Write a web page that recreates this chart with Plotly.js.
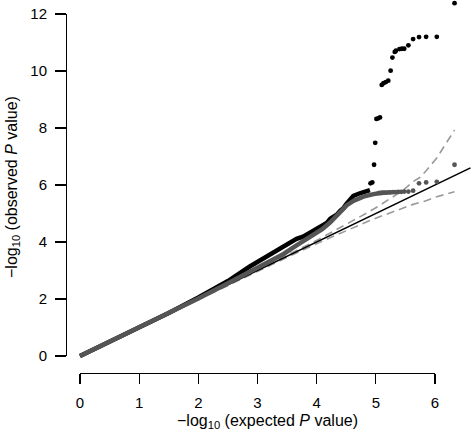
<!DOCTYPE html>
<html>
<head>
<meta charset="utf-8">
<script src="https://cdn.plot.ly/plotly-3.0.1.min.js"></script>
<style>html,body{margin:0;padding:0;background:#fff}#chart{width:471px;height:441px}</style>
</head>
<body>
<div id="chart"></div>
<script>
// Dense part of observed series 1 (black)
var blackCurveX = [0, 0.5, 1, 1.5, 2, 2.5, 2.87, 3.21, 3.44, 3.66, 3.77, 3.89, 4.0, 4.1, 4.17, 4.23, 4.34, 4.40, 4.45, 4.50, 4.56, 4.62, 4.73, 4.82, 4.90];
var blackCurveY = [0, 0.5, 1, 1.51, 2.05, 2.63, 3.14, 3.57, 3.87, 4.11, 4.19, 4.34, 4.46, 4.57, 4.67, 4.82, 4.96, 5.10, 5.18, 5.33, 5.48, 5.62, 5.71, 5.77, 5.82];
// Sparse top points of series 1
var blackPtsX = [4.91, 4.94, 4.97, 4.99, 5.01, 5.04, 5.07, 5.10, 5.13, 5.17, 5.21, 5.25, 5.28, 5.32, 5.34, 5.40, 5.44, 5.48, 5.55, 5.63, 5.73, 5.85, 6.03, 6.33];
var blackPtsY = [6.06, 6.09, 6.71, 7.48, 8.32, 8.34, 8.37, 9.51, 9.57, 9.61, 9.66, 10.01, 10.47, 10.67, 10.71, 10.77, 10.78, 10.78, 10.90, 11.12, 11.19, 11.20, 11.20, 12.38];
// Dense part of observed series 2 (dark gray)
var grayCurveX = [0, 0.5, 1, 1.5, 2, 2.5, 2.87, 3.2, 3.44, 3.66, 3.94, 4.1, 4.23, 4.39, 4.42, 4.45, 4.51, 4.62, 4.79, 4.96, 5.03];
var grayCurveY = [0, 0.5, 1, 1.5, 2.02, 2.55, 2.95, 3.32, 3.58, 3.88, 4.24, 4.46, 4.69, 5.04, 5.12, 5.21, 5.29, 5.44, 5.59, 5.68, 5.70];
// Sparse top points of series 2
var grayPtsX = [5.05, 5.07, 5.10, 5.12, 5.15, 5.18, 5.22, 5.25, 5.29, 5.33, 5.38, 5.43, 5.48, 5.55, 5.63, 5.73, 5.85, 6.03, 6.33];
var grayPtsY = [5.71, 5.72, 5.72, 5.73, 5.73, 5.73, 5.74, 5.74, 5.75, 5.75, 5.76, 5.76, 5.77, 5.77, 5.80, 6.06, 6.09, 6.11, 6.71];
// Confidence band (dashed)
var bandX = [0, 1, 2, 3, 3.33, 3.63, 4.03, 4.33, 4.63, 4.85, 5.03, 5.33, 5.45, 5.63, 5.75, 5.85, 6.03, 6.33];
var bandUpper = [0, 1.003, 2.01, 3.03, 3.36, 3.67, 4.09, 4.42, 4.76, 5.02, 5.24, 5.65, 5.80, 6.12, 6.27, 6.50, 6.95, 7.93];
var bandLower = [0, 0.997, 1.99, 2.97, 3.30, 3.59, 3.97, 4.25, 4.52, 4.71, 4.86, 5.10, 5.18, 5.32, 5.39, 5.45, 5.59, 5.76];
// Identity reference line
var refX = [0, 6.6];
var refY = [0, 6.6];
// Tick labels
var xTicks = [0, 1, 2, 3, 4, 5, 6];
var yTicks = [0, 2, 4, 6, 8, 10, 12];

var W = 471, H = 441;
var x0px = 80, x6px = 435;   // pixel of x=0 and x=6
var y0px = 356, y12px = 14;  // pixel of y=0 and y=12
var sx = (x6px - x0px) / 6, sy = (y0px - y12px) / 12;

var dashStyle = {color: '#9a9a9a', width: 1.6, dash: '8px,5px'};
var traces = [
  {x: bandX, y: bandUpper, mode: 'lines', line: dashStyle, hoverinfo: 'skip'},
  {x: bandX, y: bandLower, mode: 'lines', line: dashStyle, hoverinfo: 'skip'},
  {x: refX, y: refY, mode: 'lines', line: {color: '#000', width: 1.6}, hoverinfo: 'skip'},
  {x: blackCurveX, y: blackCurveY, mode: 'lines', line: {color: '#000', width: 4.5, shape: 'linear'}},
  {x: blackPtsX, y: blackPtsY, mode: 'markers', marker: {color: '#000', size: 4.8}, cliponaxis: false},
  {x: grayCurveX, y: grayCurveY, mode: 'lines', line: {color: '#555555', width: 4.5}},
  {x: grayPtsX, y: grayPtsY, mode: 'markers', marker: {color: '#555555', size: 4.8}, cliponaxis: false},
  {x: [0], y: [0], xaxis: 'x2', yaxis: 'y2', mode: 'markers', marker: {opacity: 0}, hoverinfo: 'skip'}
];

var tickFont = {family: 'Liberation Sans, Arial, sans-serif', size: 15, color: '#000'};
var titleFont = {family: 'Liberation Sans, Arial, sans-serif', size: 16, color: '#000'};
var layout = {
  width: W, height: H,
  margin: {l: 0, r: 0, t: 0, b: 0, pad: 0},
  paper_bgcolor: '#fff', plot_bgcolor: 'rgba(0,0,0,0)',
  showlegend: false,
  xaxis: {domain: [0, 1], range: [-x0px / sx, (W - x0px) / sx], visible: false, fixedrange: true},
  yaxis: {domain: [0, 1], range: [-(H - y0px) / sy, y0px / sy], visible: false, fixedrange: true},
  xaxis2: {
    domain: [x0px / W, x6px / W], range: [0, 6], anchor: 'free', position: (H - 373) / H,
    showline: true, linecolor: '#000', linewidth: 1.2, ticks: 'outside', ticklen: 10, tickwidth: 1.2, tickcolor: '#000',
    tickvals: xTicks, ticktext: xTicks.map(String), showgrid: false, zeroline: false, tickfont: tickFont, ticklabelstandoff: 6
  },
  yaxis2: {
    domain: [(H - y0px) / H, (H - y12px) / H], range: [0, 12], anchor: 'free', position: 66 / W,
    showline: true, linecolor: '#000', linewidth: 1.2, ticks: 'outside', ticklen: 11, tickwidth: 1.2, tickcolor: '#000',
    tickvals: yTicks, ticktext: yTicks.map(String), showgrid: false, zeroline: false, tickfont: tickFont, ticklabelstandoff: 5
  },
  annotations: [
    {xref: 'paper', yref: 'paper', x: 267 / W, y: (H - 421) / H, xanchor: 'center', yanchor: 'middle', showarrow: false,
     text: '\u2212log<sub>10</sub> (expected <i>P</i> value)', font: titleFont},
    {xref: 'paper', yref: 'paper', x: 13 / W, y: (H - 187) / H, xanchor: 'center', yanchor: 'middle', showarrow: false, textangle: -90,
     text: '\u2212log<sub>10</sub> (observed <i>P</i> value)', font: titleFont}
  ]
};
Plotly.newPlot('chart', traces, layout, {staticPlot: true, displayModeBar: false});
</script>
</body>
</html>
